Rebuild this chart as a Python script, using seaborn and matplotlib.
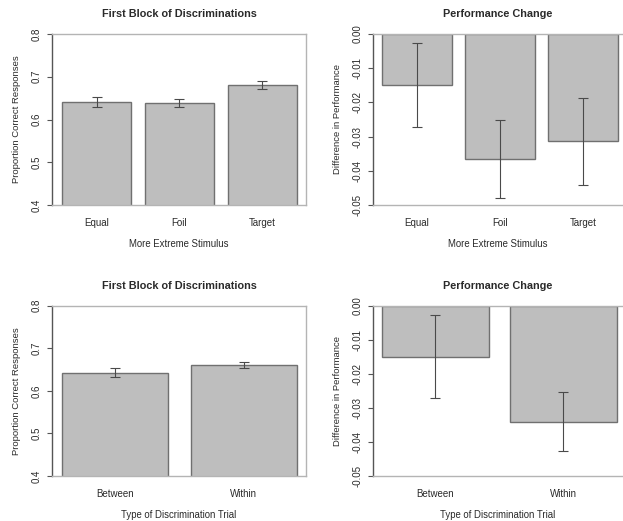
import matplotlib
matplotlib.use("Agg")
import matplotlib.pyplot as plt
import seaborn as sns
import pandas as pd
import numpy as np

# ---- data ----
stim_cats = ["Equal", "Foil", "Target"]
stim_first = [0.641, 0.639, 0.681]
stim_first_err = [0.011, 0.009, 0.0095]
stim_change = [-0.0150, -0.0366, -0.0314]
stim_change_err = [0.0123, 0.0114, 0.0128]

trial_cats = ["Between", "Within"]
trial_first = [0.642, 0.660]
trial_first_err = [0.0105, 0.0075]
trial_change = [-0.0150, -0.0340]
trial_change_err = [0.0122, 0.0086]

sns.set_theme(style="white")
plt.rcParams['font.family'] = ['Liberation Sans', 'DejaVu Sans']
plt.rcParams['axes.unicode_minus'] = False

W, H = 623, 521
fig = plt.figure(figsize=(W / 100, H / 100), dpi=100)

BAR = "#bebebe"
EDGE = "#707070"
AXDARK = "#555555"
AXLIGHT = "#b4b4b4"
TXT = "#2a2a2a"


def px_axes(x0, y0, x1, y1):
    return fig.add_axes([x0 / W, 1 - y1 / H, (x1 - x0) / W, (y1 - y0) / H])


def draw(ax, cats, vals, errs, title, xlabel, ylabel, ylim, yticks, fmt, xlim, width, box):
    df = pd.DataFrame({"cat": cats, "val": vals})
    sns.barplot(data=df, x="cat", y="val", ax=ax, color=BAR, saturation=1,
                edgecolor=EDGE, linewidth=1.0, width=width, errorbar=None)
    ax.errorbar(np.arange(len(cats)), vals, yerr=errs, fmt="none",
                ecolor="#4a4a4a", elinewidth=0.8, capsize=3.6, capthick=0.8, zorder=5)
    ax.set_ylim(*ylim)
    ax.set_xlim(*xlim)
    ax.set_yticks(yticks)
    ax.set_yticklabels([fmt % v for v in yticks], rotation=90, va="center",
                       fontsize=7.0, color=TXT)
    ax.tick_params(axis="y", length=3.6, width=0.8, color=AXDARK, pad=3.8, left=True)
    ax.tick_params(axis="x", length=0, pad=9.5, labelsize=7.0, labelcolor=TXT)
    ax.set_xlabel(xlabel, fontsize=6.9, color=TXT, labelpad=7.5)
    ax.set_ylabel(ylabel, fontsize=6.8, color=TXT, labelpad=8.0)
    ax.set_title(title, fontsize=7.8, fontweight="bold", color=TXT, pad=12)
    for s in ax.spines.values():
        s.set_linewidth(1.0)
    ax.spines["left"].set_color(AXDARK)
    ax.spines["top"].set_color(AXLIGHT)
    ax.spines["bottom"].set_color(AXLIGHT)
    ax.spines["right"].set_color(AXLIGHT)
    ax.spines["right"].set_visible(box)
    ax.set_facecolor("white")


ax1 = px_axes(52, 34, 306, 205)
draw(ax1, stim_cats, stim_first, stim_first_err, "First Block of Discriminations",
     "More Extreme Stimulus", "Proportion Correct Responses", (0.4, 0.8),
     [0.4, 0.5, 0.6, 0.7, 0.8], "%.1f", (-0.538, 2.53), 0.835, True)

ax2 = px_axes(373, 34, 622, 205)
draw(ax2, stim_cats, stim_change, stim_change_err, "Performance Change",
     "More Extreme Stimulus", "Difference in Performance", (-0.05, 0.0),
     [0.0, -0.01, -0.02, -0.03, -0.04, -0.05], "%.2f", (-0.53, 2.47), 0.843, False)

ax3 = px_axes(52, 305.7, 306, 476)
draw(ax3, trial_cats, trial_first, trial_first_err, "First Block of Discriminations",
     "Type of Discrimination Trial", "Proportion Correct Responses", (0.4, 0.8),
     [0.4, 0.5, 0.6, 0.7, 0.8], "%.1f", (-0.49, 1.486), 0.825, True)

ax4 = px_axes(373, 305.7, 622, 476)
draw(ax4, trial_cats, trial_change, trial_change_err, "Performance Change",
     "Type of Discrimination Trial", "Difference in Performance", (-0.05, 0.0),
     [0.0, -0.01, -0.02, -0.03, -0.04, -0.05], "%.2f", (-0.488, 1.457), 0.836, False)

fig.savefig("out.png", dpi=100, facecolor="white")
